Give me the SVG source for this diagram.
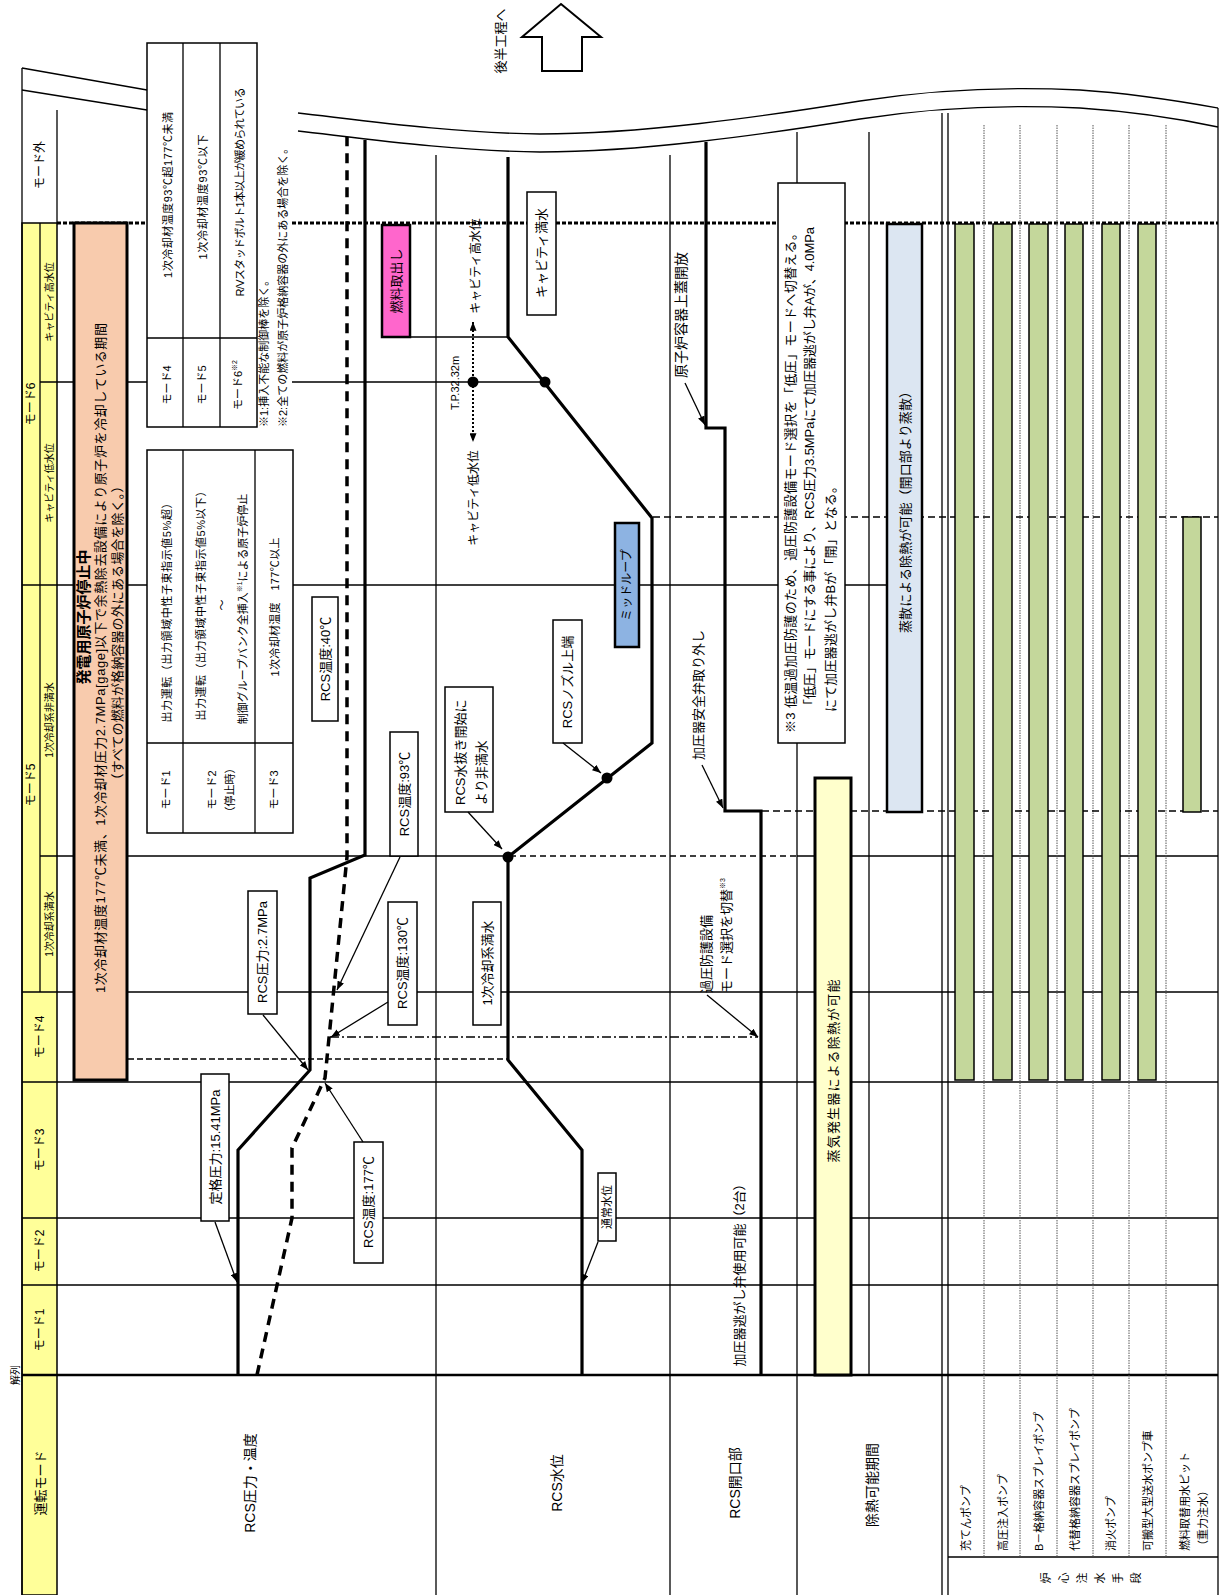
<svg xmlns="http://www.w3.org/2000/svg" width="1223" height="1595" viewBox="0 0 1223 1595">
<style>
.tx{font-family:'Liberation Sans','Noto Sans CJK JP',sans-serif;fill:#000}
.m{text-anchor:middle;dominant-baseline:central}
.st{text-anchor:start;dominant-baseline:central}
.f10{font-size:10px}.f11{font-size:11px}.f12{font-size:12px}.f13{font-size:13px}.f14{font-size:14px}
.ln{stroke:#000;stroke-width:1.3;fill:none}
.thk{stroke:#000;stroke-width:3.2;fill:none}
.box{fill:#fff;stroke:#000;stroke-width:1.5}
.arr{stroke:#000;stroke-width:1.3;fill:none;marker-end:url(#ah)}
</style>
<defs>
<marker id="ah" viewBox="0 0 10 8" refX="10" refY="4" markerWidth="9" markerHeight="7" markerUnits="userSpaceOnUse" orient="auto"><path d="M0,0 L10,4 L0,8 z" fill="#000"/></marker>
<marker id="ah2" viewBox="0 0 10 8" refX="10" refY="4" markerWidth="9" markerHeight="7" markerUnits="userSpaceOnUse" orient="auto-start-reverse"><path d="M0,0 L10,4 L0,8 z" fill="#000"/></marker>
</defs>
<rect x="0" y="0" width="1223" height="1595" fill="#fff"/>

<g id="mode-header-bg">
<rect x="22" y="223" width="35" height="1372" fill="#ffff99" stroke="#000" stroke-width="1.5"/>
</g>

<g id="grid">
<g class="ln">
<path d="M22,68 V1595"/>
<path d="M1218,108 V1595"/>
<path d="M57,110 V223"/>
<path d="M40,223 V992"/>
<path d="M436,155 V1595"/>
<path d="M670,155 V1595"/>
<path d="M797,132 V183 M797,743 V1595"/>
<path d="M869,132 V1375"/>
<path d="M942,113 V1595 M948,113 V1595"/>
<path d="M948,1557 H1218"/>
<path d="M22,1285 H1218 M22,1218 H1218 M22,1082 H1218 M22,992 H1218"/>
<path d="M40,856 H510 M797,856 H1218"/>
<path d="M22,585 H887"/>
<path d="M40,382 H147 M292,382 H545"/>
<path d="M410,337 H508"/>
<path d="M22,68 L147,90 M22,90 L147,110"/>
<path d="M298,113 C360,120 450,133 540,134 C640,134 760,117 860,101 C930,90 1000,86 1080,90 C1140,94 1190,103 1218,108"/>
<path d="M298,131 C360,138 450,151 540,152 C640,152 760,135 860,119 C930,108 1000,104 1080,108 C1140,112 1190,121 1218,127"/>
</g>
<path d="M22,1375 H1218" stroke="#000" stroke-width="2.6"/>
<path d="M57,223 H147 M292,223 H1218" stroke="#000" stroke-width="3" stroke-dasharray="4 2"/>
<path d="M984,125 V1557 M1020,125 V1557 M1057,125 V1557 M1093,125 V1557 M1129,125 V1557 M1166,125 V1557" stroke="#555" stroke-width="1" stroke-dasharray="1.5 1"/>
<path d="M128,1059 H507" stroke="#000" stroke-width="1.4" stroke-dasharray="6 3"/>
<path d="M330,1037 H758" stroke="#000" stroke-width="1.4" stroke-dasharray="9 3 2 3"/>
<path d="M510,856 H797" stroke="#000" stroke-width="1.4" stroke-dasharray="6 4"/>
<path d="M762,811 H1218" stroke="#000" stroke-width="1.4" stroke-dasharray="7 4"/>
<path d="M653,517 H1218" stroke="#000" stroke-width="1.4" stroke-dasharray="7 4"/>
</g>

<g id="mode-labels">
<text class="tx m f10" transform="translate(15,1375) rotate(-90)">解列</text>
<text class="tx m f13" transform="translate(40,1483) rotate(-90)">運転モード</text>
<text class="tx m f12" transform="translate(40,1330) rotate(-90)">モード1</text>
<text class="tx m f12" transform="translate(40,1251) rotate(-90)">モード2</text>
<text class="tx m f12" transform="translate(40,1150) rotate(-90)">モード3</text>
<text class="tx m f12" transform="translate(40,1037) rotate(-90)">モード4</text>
<text class="tx m f12" transform="translate(31,785) rotate(-90)">モード5</text>
<text class="tx m f10" transform="translate(49,924) rotate(-90)">1次冷却系満水</text>
<text class="tx m f10" transform="translate(49,720) rotate(-90)">1次冷却系非満水</text>
<text class="tx m f12" transform="translate(31,404) rotate(-90)">モード6</text>
<text class="tx m f10" transform="translate(49,483) rotate(-90)">キャビティ低水位</text>
<text class="tx m f10" transform="translate(49,302) rotate(-90)">キャビティ高水位</text>
<text class="tx m f12" transform="translate(40,165) rotate(-90)">モード外</text>
</g>

<g id="row-labels">
<text class="tx m f14" transform="translate(250,1483) rotate(-90)">RCS圧力・温度</text>
<text class="tx m f14" transform="translate(557,1483) rotate(-90)">RCS水位</text>
<text class="tx m f14" transform="translate(735,1483) rotate(-90)">RCS開口部</text>
<text class="tx m f14" transform="translate(872,1485) rotate(-90)">除熱可能期間</text>
<text class="tx st f11" transform="translate(966,1551) rotate(-90)">充てんポンプ</text>
<text class="tx st f11" transform="translate(1003,1551) rotate(-90)">高圧注入ポンプ</text>
<text class="tx st f11" transform="translate(1039,1551) rotate(-90)">B－格納容器スプレイポンプ</text>
<text class="tx st f11" transform="translate(1075,1551) rotate(-90)">代替格納容器スプレイポンプ</text>
<text class="tx st f11" transform="translate(1111,1551) rotate(-90)">消火ポンプ</text>
<text class="tx st f11" transform="translate(1148,1551) rotate(-90)">可搬型大型送水ポンプ車</text>
<text class="tx st f11" transform="translate(1185,1551) rotate(-90)">燃料取替用水ピット</text>
<text class="tx st f11" transform="translate(1203,1551) rotate(-90)">（重力注水）</text>
<text class="tx m f11" transform="translate(1046,1578) rotate(-90)">炉</text>
<text class="tx m f11" transform="translate(1064,1578) rotate(-90)">心</text>
<text class="tx m f11" transform="translate(1082,1578) rotate(-90)">注</text>
<text class="tx m f11" transform="translate(1100,1578) rotate(-90)">水</text>
<text class="tx m f11" transform="translate(1118,1578) rotate(-90)">手</text>
<text class="tx m f11" transform="translate(1136,1578) rotate(-90)">段</text>
</g>

<g id="shutdown-period">
<rect x="74" y="223" width="53" height="857" fill="#f8cbad" stroke="#000" stroke-width="3"/>
<text class="tx m" font-size="15" font-weight="bold" transform="translate(83,617) rotate(-90)">発電用原子炉停止中</text>
<text class="tx m f13" textLength="670" transform="translate(100,658) rotate(-90)">1次冷却材温度177℃未満、1次冷却材圧力2.7MPa[gage]以下で余熱除去設備により原子炉を冷却している期間</text>
<text class="tx m f13" textLength="307" transform="translate(117,633) rotate(-90)">（すべての燃料が格納容器の外にある場合を除く。）</text>
</g>

<g id="mode-table-456">
<rect x="147" y="43" width="110" height="384" class="box"/>
<path class="ln" d="M183,43 V427 M220,43 V427 M147,338 H257"/>
<text class="tx m f11" transform="translate(167,385) rotate(-90)">モード4</text>
<text class="tx m f11" transform="translate(202,385) rotate(-90)">モード5</text>
<text class="tx m f11" transform="translate(238,385) rotate(-90)">モード6<tspan font-size="7" dy="-4">※2</tspan></text>
<text class="tx m f11" textLength="166" transform="translate(168,195) rotate(-90)">1次冷却材温度93℃超177℃未満</text>
<text class="tx m f11" textLength="125" transform="translate(203,197) rotate(-90)">1次冷却材温度93℃以下</text>
<text class="tx m f11" textLength="209" transform="translate(240,192) rotate(-90)">R/Vスタッドボルト1本以上が緩められている</text>
</g>

<g id="notes-12">
<text class="tx st f11" transform="translate(264,427) rotate(-90)">※1:挿入不能な制御棒を除く。</text>
<text class="tx st f11" transform="translate(283,427) rotate(-90)">※2:全ての燃料が原子炉格納容器の外にある場合を除く。</text>
</g>

<g id="mode-table-123">
<rect x="147" y="450" width="146" height="383" class="box"/>
<path class="ln" d="M183,450 V833 M255,450 V833 M147,743 H293"/>
<text class="tx m f11" transform="translate(166,790) rotate(-90)">モード1</text>
<text class="tx m f11" transform="translate(212,790) rotate(-90)">モード2</text>
<text class="tx m f11" transform="translate(230,790) rotate(-90)">（停止時）</text>
<text class="tx m f11" transform="translate(274,790) rotate(-90)">モード3</text>
<text class="tx m f11" textLength="225" transform="translate(167,610) rotate(-90)">出力運転（出力領域中性子束指示値5%超）</text>
<text class="tx m f11" textLength="235" transform="translate(201,603) rotate(-90)">出力運転（出力領域中性子束指示値5%以下）</text>
<text class="tx m f11" transform="translate(222,605) rotate(-90)">～</text>
<text class="tx m f11" transform="translate(243,609) rotate(-90)">制御グループバンク全挿入<tspan font-size="7" dy="-4">※1</tspan><tspan dy="4">による原子炉停止</tspan></text>
<text class="tx m f11" textLength="139" transform="translate(275,607) rotate(-90)">1次冷却材温度　177℃以上</text>
</g>

<g id="rcs-pressure">
<polyline class="thk" points="238,1375 238,1150 310,1070 310,878 365,855 365,140"/>
</g>
<g id="rcs-temperature">
<polyline points="257,1375 292,1218 292,1148 325,1078 347,857 347,137" fill="none" stroke="#000" stroke-width="3.5" stroke-dasharray="10 7"/>
</g>
<g id="rcs-level">
<polyline class="thk" points="582,1375 582,1150 508,1060 508,857 652,743 652,518 508,337 508,157"/>
<circle cx="508" cy="857" r="5.5"/>
<circle cx="607" cy="778" r="5.5"/>
<circle cx="545" cy="382" r="5.5"/>
</g>
<g id="pressurizer-line">
<polyline class="thk" points="761,1375 761,811 725,811 725,428 706,428 706,142"/>
</g>

<g id="lbl-rated-pressure"><rect x="201" y="1074" width="28" height="147" class="box"/><text class="tx m f13" transform="translate(215,1147) rotate(-90)">定格圧力:15.41MPa</text></g>
<g id="lbl-temp-177"><rect x="354" y="1142" width="29" height="121" class="box"/><text class="tx m f13" transform="translate(368,1202) rotate(-90)">RCS温度:177℃</text></g>
<g id="lbl-pressure-27"><rect x="248" y="891" width="29" height="123" class="box"/><text class="tx m f13" transform="translate(262,952) rotate(-90)">RCS圧力:2.7MPa</text></g>
<g id="lbl-temp-130"><rect x="388" y="902" width="29" height="123" class="box"/><text class="tx m f13" transform="translate(402,963) rotate(-90)">RCS温度:130℃</text></g>
<g id="lbl-temp-93"><rect x="390" y="732" width="28" height="124" class="box"/><text class="tx m f13" transform="translate(404,794) rotate(-90)">RCS温度:93℃</text></g>
<g id="lbl-temp-40"><rect x="312" y="597" width="26" height="124" class="box"/><text class="tx m f13" transform="translate(325,659) rotate(-90)">RCS温度:40℃</text></g>
<g id="lbl-full"><rect x="473" y="902" width="28" height="123" class="box"/><text class="tx m f13" transform="translate(487,963) rotate(-90)">1次冷却系満水</text></g>
<g id="lbl-drain"><rect x="445" y="687" width="48" height="125" class="box"/><text class="tx st f13" transform="translate(460,805) rotate(-90)">RCS水抜き開始に</text><text class="tx st f13" transform="translate(481,805) rotate(-90)">より非満水</text></g>
<g id="lbl-nozzle"><rect x="553" y="620" width="29" height="123" class="box"/><text class="tx m f13" transform="translate(567,682) rotate(-90)">RCSノズル上端</text></g>
<g id="lbl-midloop"><rect x="615" y="523" width="24" height="124" fill="#8db3e2" stroke="#000" stroke-width="2.5"/><text class="tx m f12" transform="translate(627,585) rotate(-90)">ミッドループ</text></g>
<g id="lbl-normal"><rect x="598" y="1173" width="18" height="68" class="box"/><text class="tx m f11" transform="translate(607,1207) rotate(-90)">通常水位</text></g>
<g id="lbl-defuel"><rect x="382" y="225" width="28" height="112" fill="#ff66cc" stroke="#000" stroke-width="2.5"/><text class="tx m f13" transform="translate(396,281) rotate(-90)">燃料取出し</text></g>
<g id="lbl-cavity-full"><rect x="527" y="192" width="29" height="123" class="box"/><text class="tx m f13" transform="translate(541,253) rotate(-90)">キャビティ満水</text></g>
<g id="tp-marker">
<circle cx="473" cy="382" r="5.5"/>
<path d="M473,322 V442" stroke="#000" stroke-width="2" stroke-dasharray="2 2" fill="none" marker-start="url(#ah2)" marker-end="url(#ah2)"/>
<text class="tx m f11" transform="translate(455,383) rotate(-90)">T.P.32.32m</text>
<text class="tx m f12" transform="translate(474,498) rotate(-90)">キャビティ低水位</text>
<text class="tx m f12" transform="translate(476,266) rotate(-90)">キャビティ高水位</text>
</g>

<g id="lbl-relief">
<text class="tx m f13" transform="translate(739,1272) rotate(-90)">加圧器逃がし弁使用可能（2台）</text>
</g>
<g id="lbl-overpressure">
<text class="tx st f13" transform="translate(706,993) rotate(-90)">過圧防護設備</text>
<text class="tx st f13" transform="translate(726,993) rotate(-90)">モード選択を切替<tspan font-size="7" dy="-4">※3</tspan></text>
</g>
<g id="lbl-safety-valve">
<text class="tx st f13" transform="translate(698,760) rotate(-90)">加圧器安全弁取り外し</text>
</g>
<g id="lbl-head-open">
<text class="tx st f14" transform="translate(681,378) rotate(-90)">原子炉容器上蓋開放</text>
</g>

<g id="note-3">
<rect x="778" y="183" width="67" height="560" class="box"/>
<text class="tx st f13" textLength="506" transform="translate(790,733) rotate(-90)">※3 低温過加圧防護のため、過圧防護設備モード選択を「低圧」モードへ切替える。</text>
<text class="tx st f13" textLength="485" transform="translate(809,712) rotate(-90)">「低圧」モードにする事により、RCS圧力3.5MPaにて加圧器逃がし弁Aが、4.0MPa</text>
<text class="tx st f13" textLength="232" transform="translate(830,712) rotate(-90)">にて加圧器逃がし弁Bが「開」となる。</text>
</g>

<g id="heat-removal-sg">
<rect x="815" y="778" width="36" height="597" fill="#ffffcc" stroke="#000" stroke-width="3"/>
<text class="tx m f13" textLength="183" transform="translate(833,1071) rotate(-90)">蒸気発生器による除熱が可能</text>
</g>
<g id="heat-removal-evap">
<rect x="887" y="224" width="35" height="588" fill="#dce6f2" stroke="#000" stroke-width="2.5"/>
<text class="tx m f13" textLength="248" transform="translate(905,509) rotate(-90)">蒸散による除熱が可能（開口部より蒸散）</text>
</g>

<g id="pump-bars" fill="#c4d79b" stroke="#000" stroke-width="1.5">
<rect x="955" y="224" width="19" height="856"/>
<rect x="993" y="224" width="19" height="856"/>
<rect x="1029" y="224" width="19" height="856"/>
<rect x="1065" y="224" width="18" height="856"/>
<rect x="1102" y="224" width="18" height="856"/>
<rect x="1138" y="224" width="18" height="856"/>
<rect x="1183" y="517" width="18" height="295"/>
</g>

<g id="next-step">
<polygon points="561,4 601,37 582,37 582,71 542,71 542,37 522,37" fill="#fff" stroke="#000" stroke-width="2"/>
<text class="tx m f13" transform="translate(500,41) rotate(-90)">後半工程へ</text>
</g>

<g id="connectors">
<path class="arr" d="M215,1222 L237,1282"/>
<path class="arr" d="M363,1142 L325,1083"/>
<path class="arr" d="M263,1015 L308,1070"/>
<path class="arr" d="M388,1002 L331,1037"/>
<path class="arr" d="M400,857 L337,990"/>
<path class="arr" d="M598,1242 L582,1283"/>
<path class="arr" d="M468,812 L502,849"/>
<path class="arr" d="M563,743 L601,773"/>
<path class="arr" d="M702,765 L723,808"/>
<path class="arr" d="M707,995 L758,1037"/>
<path class="arr" d="M685,383 L705,425"/>
</g>
</svg>
